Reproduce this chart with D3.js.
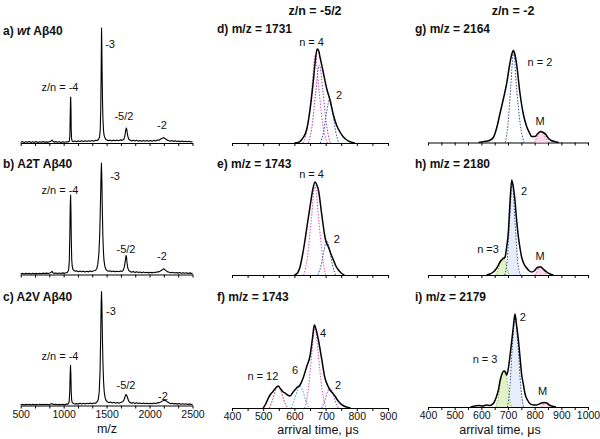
<!DOCTYPE html>
<html><head><meta charset="utf-8">
<script src="https://cdn.jsdelivr.net/npm/d3@7"></script>
<style>body{margin:0;background:#fff} svg{display:block;font-family:"Liberation Sans",Arial,sans-serif}</style>
</head><body><svg id="c" width="600" height="439"></svg>
<script>
// ---------------- DATA ----------------
// Mass spectra (m/z, relative intensity)
const specA = [[500,0.5],[520,1.2],[540,0.4],[560,1],[580,0.6],[600,1.3],[620,0.5],[640,1],[660,0.7],[680,1.2],[700,0.5],[720,1.1],[740,0.6],[760,1.2],[780,0.7],[800,1],[820,0.6],[840,1.3],[855,1.8],[865,2.6],[875,1.5],[890,0.8],[910,1.2],[930,0.6],[950,1.1],[970,0.5],[990,1],[1010,0.6],[1030,1.1],[1050,0.8],[1066,1.5],[1072,6],[1076,22],[1080,38],[1082,40],[1085,30],[1088,12],[1092,4],[1098,1.8],[1110,1.2],[1130,1.8],[1150,1.1],[1170,2],[1190,1.2],[1210,1.9],[1230,1.3],[1250,2],[1270,1.4],[1290,2],[1310,1.5],[1330,2.2],[1350,1.6],[1370,2.4],[1390,2.2],[1405,3],[1418,5],[1426,12],[1432,30],[1437,65],[1441,100],[1444,88],[1448,60],[1452,38],[1457,22],[1463,12],[1470,7],[1480,4.5],[1492,3],[1505,2.6],[1520,2],[1540,2.6],[1560,1.8],[1580,2.5],[1600,1.9],[1620,2.6],[1640,2],[1660,2.7],[1680,2.3],[1700,3],[1712,6],[1720,10],[1728,13],[1734,12],[1742,8],[1750,5],[1760,3],[1775,2.5],[1790,1.8],[1810,2.4],[1830,1.7],[1850,2.3],[1870,1.6],[1890,2.2],[1910,1.5],[1930,2.1],[1950,1.6],[1970,2.2],[1990,1.5],[2010,2.1],[2030,1.6],[2050,2.3],[2070,1.8],[2090,2.6],[2110,2.4],[2130,3.5],[2150,4.2],[2165,4.8],[2175,4],[2190,3.5],[2205,2.5],[2220,2.2],[2240,1.6],[2260,2.1],[2280,1.4],[2300,1.9],[2320,1.3],[2340,1.8],[2360,1.2],[2380,1.7],[2400,1.1],[2420,1.6],[2440,1],[2460,1.5],[2480,0.9],[2500,1.2]];
const specB = [[500,0.5],[520,1],[540,0.5],[560,1.1],[580,0.6],[600,1],[620,0.5],[640,1.1],[660,0.7],[680,1],[700,0.6],[720,1.1],[740,0.7],[760,1.2],[780,0.8],[800,1.2],[820,0.8],[840,1.4],[855,2],[865,2.8],[875,1.6],[890,1],[910,1.3],[930,0.8],[950,1.3],[970,0.9],[990,1.4],[1010,1],[1030,1.6],[1045,2],[1058,4],[1066,12],[1072,35],[1077,60],[1081,69],[1085,55],[1089,30],[1094,13],[1100,7],[1108,4.5],[1120,3.5],[1135,2.8],[1150,3.2],[1170,2.4],[1190,3],[1210,2.3],[1230,2.9],[1250,2.2],[1270,2.8],[1290,2.3],[1310,3],[1330,2.5],[1350,3.2],[1370,3.5],[1385,5],[1398,9],[1410,18],[1420,35],[1428,60],[1435,85],[1440,97],[1445,82],[1450,58],[1456,35],[1463,20],[1470,12],[1480,7],[1492,4.5],[1505,3.5],[1520,2.8],[1540,3.2],[1560,2.4],[1580,3],[1600,2.3],[1620,2.9],[1640,2.4],[1660,3],[1680,2.7],[1695,3.8],[1708,7],[1718,12],[1726,16.5],[1732,15],[1738,10],[1746,6],[1756,3.8],[1770,2.8],[1790,2],[1810,2.6],[1830,1.8],[1850,2.4],[1870,1.7],[1890,2.2],[1910,1.5],[1930,2.1],[1950,1.5],[1970,2],[1990,1.4],[2010,1.9],[2030,1.4],[2050,2],[2070,1.7],[2090,2.4],[2110,2.3],[2130,3.2],[2150,4.2],[2165,5],[2180,4],[2195,3.2],[2210,2.3],[2230,2],[2250,1.5],[2270,1.9],[2290,1.3],[2310,1.8],[2330,1.2],[2350,1.7],[2370,1.1],[2390,1.6],[2410,1],[2430,1.5],[2450,0.9],[2470,1.4],[2490,0.9],[2500,1.1]];
const specC = [[500,0.5],[520,1],[540,0.4],[560,1],[580,0.6],[600,1.1],[620,0.5],[640,1],[660,0.6],[680,1.1],[700,0.5],[720,1],[740,0.6],[760,1.1],[780,0.7],[800,1.1],[820,0.6],[840,1],[860,1.5],[875,1.2],[890,0.8],[910,1.1],[930,0.6],[950,1],[970,0.6],[990,1.1],[1010,0.7],[1030,1.2],[1050,1.2],[1064,3],[1071,12],[1076,28],[1080,35],[1084,27],[1088,12],[1093,5],[1100,2.5],[1115,1.8],[1130,1.2],[1150,1.8],[1170,1.2],[1190,1.9],[1210,1.3],[1230,2],[1250,1.4],[1270,2],[1290,1.5],[1310,2.1],[1330,1.6],[1350,2.2],[1370,2],[1388,3],[1402,5],[1414,12],[1424,30],[1431,60],[1437,90],[1441,99],[1446,85],[1451,60],[1457,38],[1464,22],[1472,12],[1482,7],[1494,4.5],[1508,3.2],[1525,2.5],[1545,3],[1565,2.2],[1585,2.8],[1605,2],[1625,2.6],[1645,2],[1665,2.6],[1685,3.2],[1700,4.5],[1712,7],[1724,9.5],[1734,9],[1745,6.5],[1756,4],[1770,2.8],[1790,2],[1810,2.5],[1830,1.8],[1850,2.4],[1870,1.7],[1890,2.2],[1910,1.6],[1930,2.1],[1950,1.5],[1970,2],[1990,1.5],[2010,1.9],[2030,1.5],[2050,2.1],[2070,1.8],[2090,2.4],[2110,2.3],[2130,3],[2150,3.8],[2165,4.5],[2180,4.3],[2195,4],[2210,3],[2225,2.4],[2245,1.6],[2265,2],[2285,1.4],[2305,1.8],[2325,1.2],[2345,1.7],[2365,1.1],[2385,1.6],[2405,1],[2425,1.5],[2445,0.9],[2465,1.4],[2485,0.9],[2500,1]];

// Arrival time distributions (µs, intensity)
const dTotal  = [[600,0],[612,0.5],[625,4],[639,13],[650,33],[661,63],[668,85],[673,94],[678,92],[682,86],[693,70],[703,55],[714,43],[725,28],[735,18],[746,11],[757,6],[768,3],[780,1],[794,0]];
const dN4a    = [[628,0],[643,18],[655,52],[667,88],[679,52],[691,18],[706,0]];
const dN4b    = [[645,0],[658,20],[668,50],[680,78],[692,50],[702,20],[715,0]];
const dN2     = [[683,0],[694,12],[703,30],[713,44],[723,30],[732,12],[742,0]];

const eTotal  = [[600,0],[610,2],[618,8],[626,20],[634,35],[642,52],[650,68],[658,84],[666,93],[672,90],[677,85],[687,62],[698,38],[703,32],[709,28],[717,21],[725,15],[733,9],[741,5],[750,2],[760,0]];
const eN4     = [[630,0],[642,18],[654,55],[666,90],[678,55],[690,18],[700,0]];
const eN2     = [[675,0],[686,10],[695,25],[704,34],[713,25],[722,10],[732,0]];

const fTotal  = [[500,0],[508,4],[515,9],[522,13],[530,16],[540,20],[548,22],[556,19],[564,16],[570,15],[578,13],[586,12],[596,16],[607,20],[618,23],[628,30],[640,42],[650,52],[658,70],[664,83],[670,78],[677,68],[688,48],[698,30],[706,23],[714,18],[722,15],[730,12],[738,8],[746,5],[756,2.5],[767,1],[780,0]];
const fN12    = [[520,0],[530,8],[540,18],[548,22],[556,18],[566,8],[578,0]];
const fN6     = [[590,0],[600,8],[610,18],[618,22],[626,18],[636,8],[646,0]];
const fN4     = [[633,0],[645,20],[656,55],[666,80],[676,55],[688,20],[700,0]];
const fN2     = [[688,0],[698,8],[707,17],[714,20],[721,17],[730,8],[740,0]];

const gTotal  = [[590,0],[610,1],[630,2],[645,5],[658,15],[670,29],[683,44],[695,59],[707,79],[714,88],[720,92],[726,88],[732,79],[745,49],[757,29],[770,16],[780,10],[789,6],[801,6],[812,9],[822,11],[832,10],[842,8],[852,4],[862,2],[875,1],[890,0]];
const gN2     = [[690,0],[700,18],[710,55],[721,90],[732,55],[746,18],[760,0]];
const gM      = [[798,0],[806,4],[815,9],[824,10],[833,9],[842,4],[852,0]];

const hTotal  = [[620,0],[632,1],[645,3],[658,7],[670,13],[680,16],[689,18],[695,28],[701,42],[707,70],[714,95],[720,88],[726,75],[732,56],[739,38],[745,27],[751,18],[760,11],[770,7],[780,4],[789,3],[798,4],[808,7],[815,8],[823,8],[832,6],[845,3],[858,1],[870,0]];
const hN3     = [[655,0],[663,5],[672,13],[682,18],[690,13],[698,5],[705,0]];
const hN2     = [[688,0],[697,15],[706,55],[716,93],[726,55],[736,15],[747,0]];
const hM      = [[800,0],[808,3],[815,7],[822,8],[830,7],[838,3],[846,0]];

const iTotal  = [[560,0],[575,1],[590,1.5],[605,1],[620,2],[632,1.5],[645,3.5],[655,9],[664,17],[670,26],[676,32],[685,36],[690,35],[695,32],[701,38],[707,50],[714,66],[720,80],[726,93],[732,82],[739,67],[745,50],[751,33],[758,22],[764,13],[773,7],[782,3.5],[795,2],[807,2],[817,3],[826,4],[836,4.5],[845,4],[855,2],[864,1],[880,0]];
const iN3     = [[655,0],[664,10],[674,28],[685,36],[696,28],[705,10],[713,0]];
const iN2     = [[698,0],[707,20],[716,60],[727,92],[738,60],[748,20],[758,0]];
const iM      = [[822,0],[830,2],[837,4],[844,4.5],[851,4],[858,2],[866,0]];

// tick labels
const mzTicks   = [500, 1000, 1500, 2000, 2500];
const atdTicksF = [400, 500, 600, 700, 800, 900];
const atdTicksI = [400, 500, 600, 700, 800, 900, 1000];

// texts
const colHeaders = ["z/n = -5/2", "z/n = -2"];
const msTitles   = [["a) ", "wt", " Aβ40"], ["b) A2T Aβ40"], ["c) A2V Aβ40"]];
const atdTitles  = ["d) m/z = 1731", "e) m/z = 1743", "f) m/z = 1743", "g) m/z = 2164", "h) m/z = 2180", "i) m/z = 2179"];
const msPeakLabels = ["z/n = -4", "-3", "-5/2", "-2"];

// ---------------- LAYOUT ----------------
const svg = d3.select("#c");
const FONT = '"Liberation Sans", Arial, sans-serif';
const xMS  = d3.scaleLinear([500, 2500], [20.7, 192.5]);
const xMid = d3.scaleLinear([400, 900], [232, 388]);
const xRt  = d3.scaleLinear([400, 1000], [428, 588]);
const msAxisY  = [143, 274.5, 405.5];
const midAxisY = [143, 275, 408];
const rtAxisY  = [142.5, 275, 407];

const COL = {pink:"#e050b8", purple:"#9a40c0", blue:"#2f4fa8", cyan:"#2aa8d8", red:"#d02040", green:"#8cc63f",
             pinkFill:"#f9dbe9", greenFill:"#e3f2c8", blueFill:"#e8eef9"};

function drawAxis(x, y, domain, step, labels) {
  const minor = d3.range(domain[0], domain[1] + step / 2, step);
  svg.append("g").attr("transform", `translate(0,${y})`)
    .call(d3.axisBottom(x).tickValues(minor).tickSize(3).tickSizeOuter(0).tickFormat(""))
    .call(g => g.select(".domain").attr("stroke", "#000").attr("stroke-width", 1))
    .call(g => g.selectAll(".tick line").attr("stroke", "#000"));
  if (labels) {
    const g = svg.append("g").attr("transform", `translate(0,${y})`)
      .call(d3.axisBottom(x).tickValues(labels).tickSize(0).tickPadding(5).tickFormat(d3.format("d")));
    g.select(".domain").remove();
    g.selectAll("text").attr("font-family", FONT).attr("font-size", 10.5).attr("fill", "#111");
  }
}

function label(x, y, txt, size, opts = {}) {
  return svg.append("text").attr("x", x).attr("y", y).attr("font-family", FONT)
    .attr("font-size", size).attr("dominant-baseline", "middle")
    .attr("text-anchor", opts.anchor || "middle").attr("font-weight", opts.bold ? "bold" : null)
    .attr("fill", "#111").text(txt);
}

// ---------- left column: mass spectra ----------
const specs = [specA, specB, specC];
const msLabelPos = [
  [[957, 47.8], [1540, 85], [1702, 22.6], [2144, 14.8]],
  [[957, 72.6], [1598, 84.8], [1726, 21.3], [2144, 15.2]],
  [[957, 41.7], [1551, 80.9], [1726, 16.5], [2156, 7]]
];
const msTitleY = [32, 165, 298];
specs.forEach((s, i) => {
  const ay = msAxisY[i];
  const y = d3.scaleLinear([0, 100], [ay, ay - 115]);
  drawAxis(xMS, ay, [500, 2500], 2000 / 12, i === 2 ? mzTicks : null);
  svg.append("path").datum(s)
    .attr("d", d3.line().x(d => xMS(d[0])).y(d => y(d[1])).curve(d3.curveLinear))
    .attr("fill", "none").attr("stroke", "#000").attr("stroke-width", 1.1).attr("stroke-linejoin", "round");
  msPeakLabels.forEach((t, k) => label(xMS(msLabelPos[i][k][0]), y(msLabelPos[i][k][1]), t, 11));
  const tt = svg.append("text").attr("x", 3).attr("y", msTitleY[i]).attr("font-family", FONT)
    .attr("font-size", 12).attr("font-weight", "bold").attr("dominant-baseline", "middle").attr("fill", "#111");
  msTitles[i].forEach(p => tt.append("tspan").attr("font-style", p === "wt" ? "italic" : null).text(p));
});
label(107, 430, "m/z", 12.5);

// ---------- ATD panels ----------
const atdPanels = [
  {x: xMid, ay: midAxisY[0], total: dTotal, comps: [{d: dN4a, c: COL.pink}, {d: dN4b, c: COL.purple}, {d: dN2, c: COL.blue}],
   labels: [["n = 4", 655, 100], ["2", 743, 47]], title: 0},
  {x: xMid, ay: midAxisY[1], total: eTotal, comps: [{d: eN4, c: COL.pink}, {d: eN2, c: COL.blue}],
   labels: [["n = 4", 655, 100], ["2", 736, 35]], title: 1},
  {x: xMid, ay: midAxisY[2], total: fTotal, comps: [{d: fN12, c: COL.red}, {d: fN6, c: COL.cyan}, {d: fN4, c: COL.pink}, {d: fN2, c: COL.purple}],
   labels: [["n = 12", 499, 30.5], ["6", 602, 36.5], ["4", 692, 73.5], ["2", 740, 21.5]], title: 2},
  {x: xRt, ay: rtAxisY[0], total: gTotal, comps: [{d: gN2, c: COL.blue}, {d: gM, c: COL.pink, f: COL.pinkFill}],
   labels: [["n = 2", 820, 79.5], ["M", 820, 20.5]], title: 3},
  {x: xRt, ay: rtAxisY[1], total: hTotal, comps: [{d: hN2, c: COL.blue, f: COL.blueFill}, {d: hN3, c: COL.green, f: COL.greenFill}, {d: hM, c: COL.pink, f: COL.pinkFill}],
   labels: [["n =3", 625, 25], ["2", 760, 83], ["M", 820, 18]], title: 4},
  {x: xRt, ay: rtAxisY[2], total: iTotal, comps: [{d: iN2, c: COL.blue, f: COL.blueFill}, {d: iN3, c: COL.green, f: COL.greenFill}, {d: iM, c: COL.pink, f: COL.pinkFill}],
   labels: [["n = 3", 614, 47], ["2", 756, 89], ["M", 830, 15.3]], title: 5}
];
const atdTitlePos = [[217, 30], [217, 165], [217, 298], [415, 30], [415, 165], [415, 298]];

atdPanels.forEach((p, i) => {
  const y = d3.scaleLinear([0, 100], [p.ay, p.ay - 100]);
  const isMid = p.x === xMid;
  const dom = isMid ? [400, 900] : [400, 1000];
  const bottom = i === 2 || i === 5;
  drawAxis(p.x, p.ay, dom, 50, bottom ? (isMid ? atdTicksF : atdTicksI) : null);
  const line = d3.line().x(d => p.x(d[0])).y(d => y(d[1])).curve(d3.curveMonotoneX);
  const area = d3.area().x(d => p.x(d[0])).y0(p.ay).y1(d => y(d[1])).curve(d3.curveMonotoneX);
  p.comps.forEach(c => {
    if (c.f) svg.append("path").datum(c.d).attr("d", area).attr("fill", c.f).attr("stroke", "none");
  });
  p.comps.forEach(c => {
    svg.append("path").datum(c.d).attr("d", line).attr("fill", "none").attr("stroke", c.c)
      .attr("stroke-width", 1).attr("stroke-dasharray", "1.5,1.5");
  });
  svg.append("path").datum(p.total).attr("d", line).attr("fill", "none").attr("stroke", "#000")
    .attr("stroke-width", 1.5).attr("stroke-linejoin", "round");
  p.labels.forEach(l => label(p.x(l[1]), y(l[2]), l[0], 11));
  const tp = atdTitlePos[i];
  label(tp[0], tp[1], atdTitles[p.title], 12, {anchor: "start", bold: true});
});

label(315, 12, colHeaders[0], 12.5, {bold: true});
label(513, 12, colHeaders[1], 12.5, {bold: true});
label(318, 431, "arrival time, μs", 12.5);
label(500, 431, "arrival time, μs", 12.5);
</script></body></html>
